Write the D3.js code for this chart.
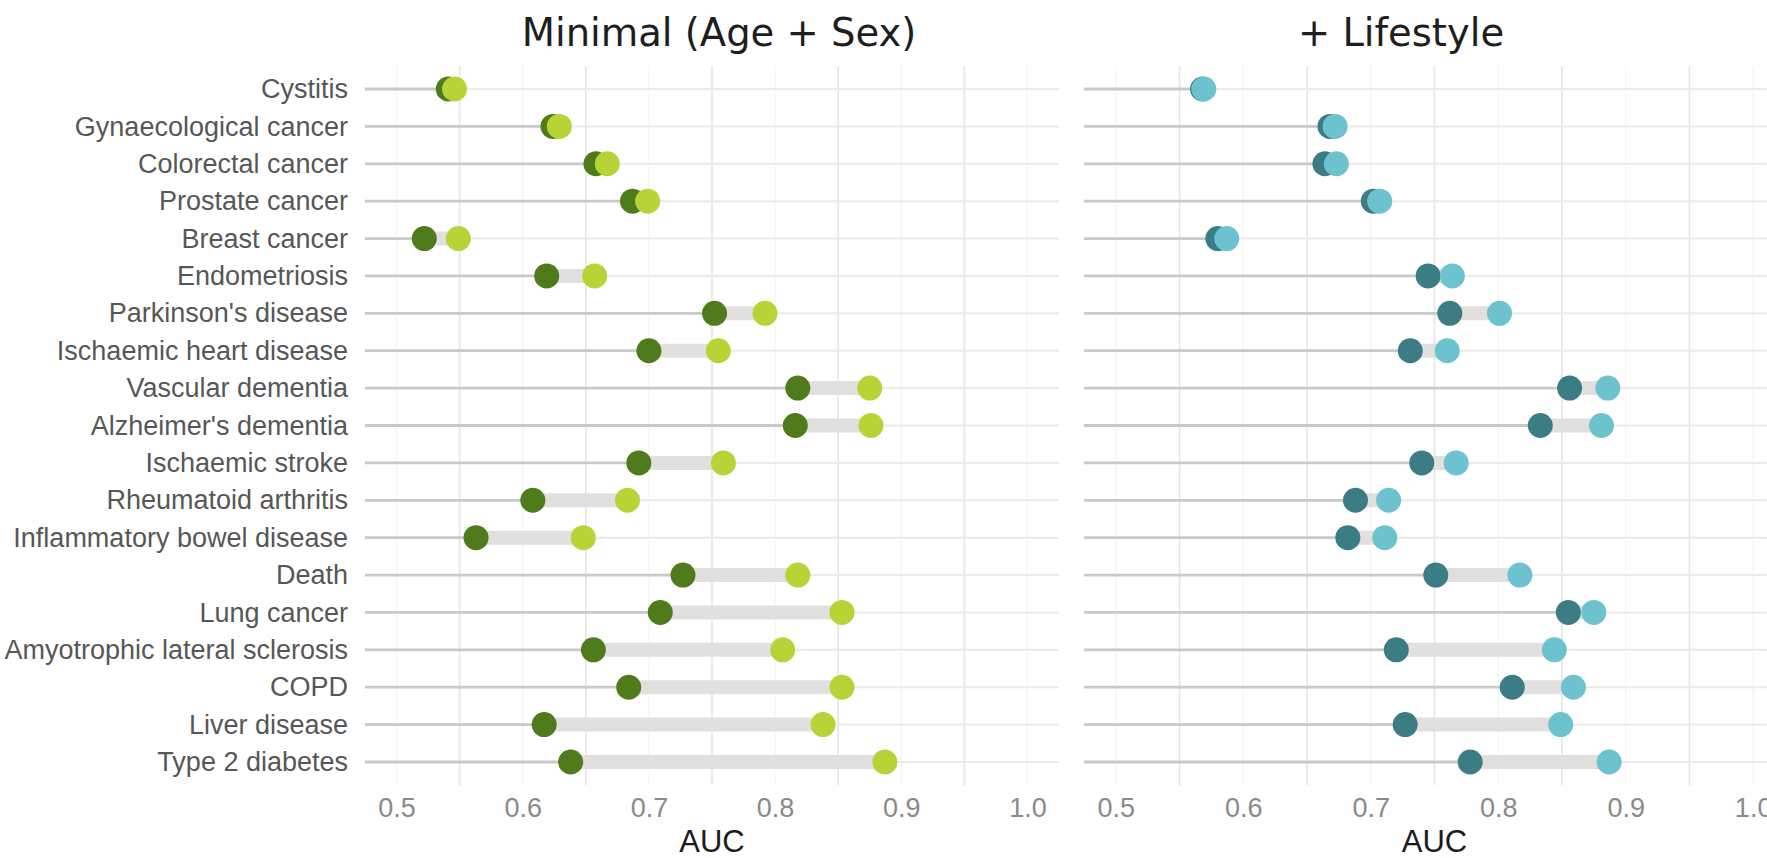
<!DOCTYPE html>
<html>
<head>
<meta charset="utf-8">
<script src="https://cdn.jsdelivr.net/npm/d3@7"></script>
<style>
  html, body { margin: 0; padding: 0; background: #ffffff; overflow: hidden; }
  svg { display: block; }
</style>
</head>
<body>
<svg id="chart" width="1767" height="858"></svg>
<script>
// ---------------- DATA ----------------
const categories = [
  "Cystitis", "Gynaecological cancer", "Colorectal cancer", "Prostate cancer",
  "Breast cancer", "Endometriosis", "Parkinson's disease", "Ischaemic heart disease",
  "Vascular dementia", "Alzheimer's dementia", "Ischaemic stroke", "Rheumatoid arthritis",
  "Inflammatory bowel disease", "Death", "Lung cancer", "Amyotrophic lateral sclerosis",
  "COPD", "Liver disease", "Type 2 diabetes"
];
const panelTitles = ["Minimal (Age + Sex)", "+ Lifestyle"];
// dark dots (baseline model) and light dots (extended model)
const minimalBase = [0.541, 0.624, 0.658, 0.687, 0.522, 0.619, 0.752, 0.700, 0.818, 0.816,
                     0.692, 0.608, 0.563, 0.727, 0.709, 0.656, 0.684, 0.617, 0.638];
const minimalFull = [0.546, 0.629, 0.667, 0.699, 0.549, 0.657, 0.792, 0.755, 0.875, 0.876,
                     0.759, 0.683, 0.648, 0.818, 0.853, 0.806, 0.853, 0.838, 0.887];
const lifestyleBase = [0.568, 0.668, 0.664, 0.702, 0.580, 0.745, 0.762, 0.731, 0.856, 0.833,
                       0.740, 0.688, 0.682, 0.751, 0.855, 0.720, 0.811, 0.727, 0.778];
const lifestyleFull = [0.569, 0.672, 0.673, 0.707, 0.587, 0.764, 0.801, 0.760, 0.886, 0.881,
                       0.767, 0.714, 0.711, 0.817, 0.875, 0.844, 0.859, 0.849, 0.887];
const xTicks = [0.5, 0.6, 0.7, 0.8, 0.9, 1.0];
const xMinorTicks = [0.55, 0.65, 0.75, 0.85, 0.95];
const xTitle = "AUC";

// ---------------- LAYOUT ----------------
const svg = d3.select("#chart");
const panelTop = 66, panelBottom = 785;
const y = d3.scalePoint().domain(categories).range([89, 762]);

const panels = [
  { title: panelTitles[0], base: minimalBase, full: minimalFull, range: [365, 1059],
    titleX: 719, dark: "#4f7b1d", light: "#b7d437" },
  { title: panelTitles[1], base: lifestyleBase, full: lifestyleFull, range: [1084, 1785],
    titleX: 1401, dark: "#3c7d85", light: "#6cc3cf" }
];

panels.forEach((p, pi) => {
  const x = d3.scaleLinear().domain([0.475, 1.025]).range(p.range);
  const g = svg.append("g");
  const rows = categories.map((c, i) => ({ c, lo: p.base[i], hi: p.full[i] }));

  // vertical grid: major (faint) and minor (a bit stronger)
  g.selectAll("line.vmaj").data(xTicks).join("line")
    .attr("x1", d => x(d)).attr("x2", d => x(d))
    .attr("y1", panelTop).attr("y2", panelBottom)
    .attr("stroke", "#f3f3f3").attr("stroke-width", 1.2);
  g.selectAll("line.vmin").data(xMinorTicks).join("line")
    .attr("x1", d => x(d)).attr("x2", d => x(d))
    .attr("y1", panelTop).attr("y2", panelBottom)
    .attr("stroke", "#e6e6e6").attr("stroke-width", 1.6);

  // horizontal grid per category
  g.selectAll("line.hgrid").data(categories).join("line")
    .attr("x1", p.range[0]).attr("x2", p.range[1])
    .attr("y1", d => y(d)).attr("y2", d => y(d))
    .attr("stroke", "#ebebeb").attr("stroke-width", 2);

  // stem from panel left to baseline value
  g.selectAll("line.stem").data(rows).join("line")
    .attr("x1", p.range[0]).attr("x2", d => x(d.lo))
    .attr("y1", d => y(d.c)).attr("y2", d => y(d.c))
    .attr("stroke", "#c9c9c9").attr("stroke-width", 2.8);

  // thick gap bar
  g.selectAll("line.gap").data(rows).join("line")
    .attr("x1", d => x(d.lo)).attr("x2", d => x(d.hi))
    .attr("y1", d => y(d.c)).attr("y2", d => y(d.c))
    .attr("stroke", "#e1e0de").attr("stroke-width", 14);

  // dots
  g.selectAll("circle.lo").data(rows).join("circle")
    .attr("cx", d => x(d.lo)).attr("cy", d => y(d.c)).attr("r", 12.5)
    .attr("fill", p.dark);
  g.selectAll("circle.hi").data(rows).join("circle")
    .attr("cx", d => x(d.hi)).attr("cy", d => y(d.c)).attr("r", 12.5)
    .attr("fill", p.light);

  // x axis
  const xa = g.append("g").attr("transform", `translate(0, ${798})`)
    .call(d3.axisBottom(x).tickValues(xTicks).tickFormat(d3.format(".1f")).tickSize(0).tickPadding(0));
  xa.select(".domain").remove();
  xa.selectAll("text")
    .attr("font-family", "'Liberation Sans', Arial, sans-serif")
    .attr("font-size", 27).attr("fill", "#8a8a8a").attr("dy", "0.71em");

  // axis title
  g.append("text")
    .attr("x", (p.range[0] + p.range[1]) / 2)
    .attr("y", 852)
    .attr("text-anchor", "middle")
    .attr("font-family", "'Liberation Sans', Arial, sans-serif")
    .attr("font-size", 31).attr("fill", "#1c1c1c")
    .text(xTitle);

  // panel title
  g.append("text")
    .attr("x", p.titleX).attr("y", 46)
    .attr("text-anchor", "middle")
    .attr("font-family", "'DejaVu Sans', Verdana, sans-serif")
    .attr("font-size", 38.5).attr("fill", "#1e1e1e")
    .text(p.title);

  // y axis labels (left panel only)
  if (pi === 0) {
    const ya = g.append("g").attr("transform", `translate(${p.range[0]}, 0)`)
      .call(d3.axisLeft(y).tickSize(0).tickPadding(17));
    ya.select(".domain").remove();
    ya.selectAll("text")
      .attr("font-family", "'Liberation Sans', Arial, sans-serif")
      .attr("font-size", 27).attr("fill", "#575757");
  }
});
</script>
</body>
</html>
